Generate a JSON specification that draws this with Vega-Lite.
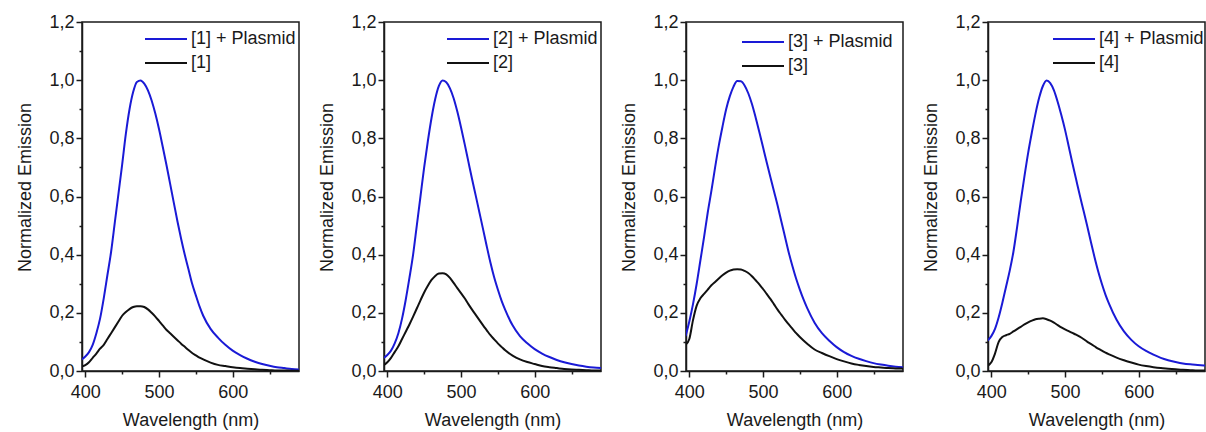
{
  "$schema": "https://vega.github.io/schema/vega-lite/v6.json",
  "padding": {"left": 16, "top": 12, "right": 0, "bottom": 0},
  "background": "white",
  "spacing": 18,
  "config": {
    "font": "Liberation Sans",
    "view": {"stroke": "#1a1a1a", "strokeWidth": 1.5},
    "axis": {"domainColor": "#1a1a1a", "domainWidth": 1.5, "tickColor": "#1a1a1a", "tickWidth": 1.5, "labelFontSize": 18, "titleFontSize": 18, "titleFontWeight": "normal", "labelColor": "#1a1a1a", "titleColor": "#1a1a1a", "grid": false, "labelOverlap": false, "labelFlush": false},
    "legend": {"orient": "none", "title": null, "symbolType": "stroke", "symbolSize": 1764, "symbolStrokeWidth": 2, "clipHeight": 22, "rowPadding": 2, "labelFontSize": 18, "labelOffset": 3, "labelColor": "#1a1a1a", "padding": 0}
  },
  "datasets": {
    "spectra": [
      {"p":1,"x":395,"a":0.04,"b":0.015},{"p":1,"x":400,"a":0.05,"b":0.02},{"p":1,"x":405,"a":0.065,"b":0.03},{"p":1,"x":410,"a":0.09,"b":0.045},{"p":1,"x":415,"a":0.13,"b":0.06},{"p":1,"x":420,"a":0.18,"b":0.077},{"p":1,"x":425,"a":0.25,"b":0.09},{"p":1,"x":430,"a":0.33,"b":0.11},{"p":1,"x":435,"a":0.41,"b":0.13},{"p":1,"x":440,"a":0.51,"b":0.15},
      {"p":1,"x":445,"a":0.61,"b":0.17},{"p":1,"x":450,"a":0.71,"b":0.19},{"p":1,"x":455,"a":0.815,"b":0.203},{"p":1,"x":460,"a":0.9,"b":0.213},{"p":1,"x":465,"a":0.96,"b":0.22},{"p":1,"x":470,"a":0.994,"b":0.223},{"p":1,"x":475,"a":0.999,"b":0.223},{"p":1,"x":480,"a":0.988,"b":0.22},{"p":1,"x":485,"a":0.965,"b":0.212},{"p":1,"x":490,"a":0.93,"b":0.2},
      {"p":1,"x":495,"a":0.885,"b":0.187},{"p":1,"x":500,"a":0.832,"b":0.172},{"p":1,"x":505,"a":0.772,"b":0.157},{"p":1,"x":510,"a":0.71,"b":0.142},{"p":1,"x":515,"a":0.645,"b":0.13},{"p":1,"x":520,"a":0.58,"b":0.118},{"p":1,"x":525,"a":0.515,"b":0.106},{"p":1,"x":530,"a":0.455,"b":0.094},{"p":1,"x":535,"a":0.4,"b":0.083},{"p":1,"x":540,"a":0.35,"b":0.072},
      {"p":1,"x":545,"a":0.3,"b":0.062},{"p":1,"x":550,"a":0.26,"b":0.054},{"p":1,"x":555,"a":0.222,"b":0.046},{"p":1,"x":560,"a":0.19,"b":0.04},{"p":1,"x":570,"a":0.145,"b":0.029},{"p":1,"x":580,"a":0.115,"b":0.021},{"p":1,"x":590,"a":0.09,"b":0.017},{"p":1,"x":600,"a":0.07,"b":0.013},{"p":1,"x":610,"a":0.055,"b":0.01},{"p":1,"x":620,"a":0.042,"b":0.008},
      {"p":1,"x":630,"a":0.032,"b":0.006},{"p":1,"x":640,"a":0.024,"b":0.004},{"p":1,"x":650,"a":0.018,"b":0.003},{"p":1,"x":660,"a":0.013,"b":0.002},{"p":1,"x":670,"a":0.01,"b":0.002},{"p":1,"x":680,"a":0.007,"b":0.001},{"p":1,"x":690,"a":0.005,"b":0.001},

      {"p":2,"x":395,"a":0.045,"b":0.02},{"p":2,"x":400,"a":0.055,"b":0.03},{"p":2,"x":405,"a":0.07,"b":0.045},{"p":2,"x":410,"a":0.095,"b":0.065},{"p":2,"x":415,"a":0.13,"b":0.085},{"p":2,"x":420,"a":0.18,"b":0.11},{"p":2,"x":425,"a":0.245,"b":0.135},{"p":2,"x":430,"a":0.32,"b":0.16},{"p":2,"x":435,"a":0.4,"b":0.187},{"p":2,"x":440,"a":0.5,"b":0.215},
      {"p":2,"x":445,"a":0.6,"b":0.243},{"p":2,"x":450,"a":0.7,"b":0.27},{"p":2,"x":455,"a":0.79,"b":0.293},{"p":2,"x":460,"a":0.87,"b":0.313},{"p":2,"x":465,"a":0.935,"b":0.327},{"p":2,"x":470,"a":0.98,"b":0.335},{"p":2,"x":475,"a":0.999,"b":0.336},{"p":2,"x":480,"a":0.993,"b":0.332},{"p":2,"x":485,"a":0.972,"b":0.32},{"p":2,"x":490,"a":0.938,"b":0.303},
      {"p":2,"x":495,"a":0.892,"b":0.285},{"p":2,"x":500,"a":0.838,"b":0.268},{"p":2,"x":505,"a":0.78,"b":0.25},{"p":2,"x":510,"a":0.72,"b":0.23},{"p":2,"x":515,"a":0.66,"b":0.211},{"p":2,"x":520,"a":0.603,"b":0.193},{"p":2,"x":525,"a":0.545,"b":0.175},{"p":2,"x":530,"a":0.487,"b":0.157},{"p":2,"x":535,"a":0.428,"b":0.14},{"p":2,"x":540,"a":0.372,"b":0.123},
      {"p":2,"x":545,"a":0.322,"b":0.109},{"p":2,"x":550,"a":0.28,"b":0.095},{"p":2,"x":555,"a":0.242,"b":0.083},{"p":2,"x":560,"a":0.21,"b":0.071},{"p":2,"x":570,"a":0.157,"b":0.053},{"p":2,"x":580,"a":0.12,"b":0.04},{"p":2,"x":590,"a":0.095,"b":0.031},{"p":2,"x":600,"a":0.075,"b":0.024},{"p":2,"x":610,"a":0.06,"b":0.017},{"p":2,"x":620,"a":0.048,"b":0.013},
      {"p":2,"x":630,"a":0.038,"b":0.01},{"p":2,"x":640,"a":0.03,"b":0.007},{"p":2,"x":650,"a":0.024,"b":0.005},{"p":2,"x":660,"a":0.019,"b":0.004},{"p":2,"x":670,"a":0.015,"b":0.003},{"p":2,"x":680,"a":0.012,"b":0.002},{"p":2,"x":690,"a":0.01,"b":0.002},

      {"p":3,"x":395,"a":0.12,"b":0.09},{"p":3,"x":400,"a":0.17,"b":0.11},{"p":3,"x":405,"a":0.23,"b":0.175},{"p":3,"x":410,"a":0.3,"b":0.225},{"p":3,"x":415,"a":0.38,"b":0.25},{"p":3,"x":420,"a":0.46,"b":0.265},{"p":3,"x":425,"a":0.545,"b":0.28},{"p":3,"x":430,"a":0.62,"b":0.295},{"p":3,"x":435,"a":0.7,"b":0.306},{"p":3,"x":440,"a":0.775,"b":0.318},
      {"p":3,"x":445,"a":0.84,"b":0.329},{"p":3,"x":450,"a":0.9,"b":0.338},{"p":3,"x":455,"a":0.945,"b":0.345},{"p":3,"x":460,"a":0.978,"b":0.349},{"p":3,"x":465,"a":0.997,"b":0.35},{"p":3,"x":470,"a":0.996,"b":0.349},{"p":3,"x":475,"a":0.982,"b":0.344},{"p":3,"x":480,"a":0.955,"b":0.337},{"p":3,"x":485,"a":0.918,"b":0.326},{"p":3,"x":490,"a":0.872,"b":0.312},
      {"p":3,"x":495,"a":0.822,"b":0.298},{"p":3,"x":500,"a":0.77,"b":0.282},{"p":3,"x":505,"a":0.718,"b":0.265},{"p":3,"x":510,"a":0.667,"b":0.248},{"p":3,"x":515,"a":0.617,"b":0.229},{"p":3,"x":520,"a":0.567,"b":0.21},{"p":3,"x":525,"a":0.513,"b":0.193},{"p":3,"x":530,"a":0.46,"b":0.176},{"p":3,"x":535,"a":0.407,"b":0.16},{"p":3,"x":540,"a":0.36,"b":0.145},
      {"p":3,"x":545,"a":0.317,"b":0.13},{"p":3,"x":550,"a":0.28,"b":0.117},{"p":3,"x":555,"a":0.246,"b":0.105},{"p":3,"x":560,"a":0.216,"b":0.094},{"p":3,"x":570,"a":0.166,"b":0.074},{"p":3,"x":580,"a":0.13,"b":0.062},{"p":3,"x":590,"a":0.104,"b":0.051},{"p":3,"x":600,"a":0.082,"b":0.041},{"p":3,"x":610,"a":0.065,"b":0.033},{"p":3,"x":620,"a":0.052,"b":0.026},
      {"p":3,"x":630,"a":0.042,"b":0.021},{"p":3,"x":640,"a":0.034,"b":0.017},{"p":3,"x":650,"a":0.027,"b":0.014},{"p":3,"x":660,"a":0.022,"b":0.012},{"p":3,"x":670,"a":0.018,"b":0.01},{"p":3,"x":680,"a":0.015,"b":0.009},{"p":3,"x":690,"a":0.013,"b":0.008},

      {"p":4,"x":395,"a":0.105,"b":0.018},{"p":4,"x":400,"a":0.12,"b":0.03},{"p":4,"x":405,"a":0.145,"b":0.06},{"p":4,"x":410,"a":0.185,"b":0.1},{"p":4,"x":415,"a":0.235,"b":0.117},{"p":4,"x":420,"a":0.29,"b":0.123},{"p":4,"x":425,"a":0.345,"b":0.128},{"p":4,"x":430,"a":0.41,"b":0.136},{"p":4,"x":435,"a":0.495,"b":0.144},{"p":4,"x":440,"a":0.585,"b":0.152},
      {"p":4,"x":445,"a":0.67,"b":0.16},{"p":4,"x":450,"a":0.75,"b":0.167},{"p":4,"x":455,"a":0.82,"b":0.173},{"p":4,"x":460,"a":0.885,"b":0.178},{"p":4,"x":465,"a":0.94,"b":0.18},{"p":4,"x":470,"a":0.98,"b":0.181},{"p":4,"x":475,"a":0.999,"b":0.178},{"p":4,"x":480,"a":0.99,"b":0.173},{"p":4,"x":485,"a":0.965,"b":0.166},{"p":4,"x":490,"a":0.926,"b":0.158},
      {"p":4,"x":495,"a":0.88,"b":0.15},{"p":4,"x":500,"a":0.83,"b":0.143},{"p":4,"x":505,"a":0.773,"b":0.137},{"p":4,"x":510,"a":0.715,"b":0.131},{"p":4,"x":515,"a":0.66,"b":0.125},{"p":4,"x":520,"a":0.605,"b":0.118},{"p":4,"x":525,"a":0.553,"b":0.11},{"p":4,"x":530,"a":0.5,"b":0.101},{"p":4,"x":535,"a":0.445,"b":0.093},{"p":4,"x":540,"a":0.392,"b":0.085},
      {"p":4,"x":545,"a":0.343,"b":0.077},{"p":4,"x":550,"a":0.3,"b":0.07},{"p":4,"x":555,"a":0.262,"b":0.063},{"p":4,"x":560,"a":0.23,"b":0.057},{"p":4,"x":570,"a":0.176,"b":0.046},{"p":4,"x":580,"a":0.136,"b":0.037},{"p":4,"x":590,"a":0.107,"b":0.029},{"p":4,"x":600,"a":0.085,"b":0.022},{"p":4,"x":610,"a":0.069,"b":0.017},{"p":4,"x":620,"a":0.056,"b":0.013},
      {"p":4,"x":630,"a":0.045,"b":0.01},{"p":4,"x":640,"a":0.037,"b":0.008},{"p":4,"x":650,"a":0.031,"b":0.006},{"p":4,"x":660,"a":0.026,"b":0.004},{"p":4,"x":670,"a":0.023,"b":0.003},{"p":4,"x":680,"a":0.021,"b":0.002},{"p":4,"x":690,"a":0.019,"b":0.002}
    ]
  },
  "data": {"name": "spectra"},
  "resolve": {"scale": {"color": "independent"}, "legend": {"color": "independent"}},
  "hconcat": [
    {
      "width": 217, "height": 349,
      "transform": [{"filter": "datum.p == 1"}, {"fold": ["a", "b"], "as": ["s", "v"]}],
      "mark": {"type": "line", "strokeWidth": 2, "interpolate": "monotone", "clip": true},
      "encoding": {
        "x": {"field": "x", "type": "quantitative", "scale": {"domain": [395.5, 690], "nice": false, "zero": false},
          "axis": {"title": "Wavelength (nm)", "values": [400, 450, 500, 550, 600, 650], "labelExpr": "datum.value % 100 == 0 ? datum.label : ''", "tickSize": {"condition": {"test": "datum.value % 100 == 0", "value": 6}, "value": 3}, "labelPadding": 6, "titlePadding": 10}},
        "y": {"field": "v", "type": "quantitative", "scale": {"domain": [0, 1.2], "nice": false},
          "axis": {"title": "Normalized Emission", "titleY": 165, "values": [0, 0.1, 0.2, 0.3, 0.4, 0.5, 0.6, 0.7, 0.8, 0.9, 1, 1.1, 1.2], "labelExpr": "round(datum.value*10) % 2 == 0 ? replace(format(datum.value, '.1f'), '.', ',') : ''", "tickSize": {"condition": {"test": "round(datum.value*10) % 2 == 0", "value": 6}, "value": 3}, "labelPadding": 2, "titlePadding": 14}},
        "color": {"field": "s", "type": "nominal", "scale": {"domain": ["a", "b"], "range": ["#1a1ad6", "#111111"]},
          "legend": {"legendX": 62, "legendY": 6, "labelExpr": "datum.value == 'a' ? '[1] + Plasmid' : '[1]'"}}
      }
    },
    {
      "width": 217, "height": 349,
      "transform": [{"filter": "datum.p == 2"}, {"fold": ["a", "b"], "as": ["s", "v"]}],
      "mark": {"type": "line", "strokeWidth": 2, "interpolate": "monotone", "clip": true},
      "encoding": {
        "x": {"field": "x", "type": "quantitative", "scale": {"domain": [395.5, 690], "nice": false, "zero": false},
          "axis": {"title": "Wavelength (nm)", "values": [400, 450, 500, 550, 600, 650], "labelExpr": "datum.value % 100 == 0 ? datum.label : ''", "tickSize": {"condition": {"test": "datum.value % 100 == 0", "value": 6}, "value": 3}, "labelPadding": 6, "titlePadding": 10}},
        "y": {"field": "v", "type": "quantitative", "scale": {"domain": [0, 1.2], "nice": false},
          "axis": {"title": "Normalized Emission", "titleY": 165, "values": [0, 0.1, 0.2, 0.3, 0.4, 0.5, 0.6, 0.7, 0.8, 0.9, 1, 1.1, 1.2], "labelExpr": "round(datum.value*10) % 2 == 0 ? replace(format(datum.value, '.1f'), '.', ',') : ''", "tickSize": {"condition": {"test": "round(datum.value*10) % 2 == 0", "value": 6}, "value": 3}, "labelPadding": 2, "titlePadding": 14}},
        "color": {"field": "s", "type": "nominal", "scale": {"domain": ["a", "b"], "range": ["#1a1ad6", "#111111"]},
          "legend": {"legendX": 62, "legendY": 6, "labelExpr": "datum.value == 'a' ? '[2] + Plasmid' : '[2]'"}}
      }
    },
    {
      "width": 217, "height": 349,
      "transform": [{"filter": "datum.p == 3"}, {"fold": ["a", "b"], "as": ["s", "v"]}],
      "mark": {"type": "line", "strokeWidth": 2, "interpolate": "monotone", "clip": true},
      "encoding": {
        "x": {"field": "x", "type": "quantitative", "scale": {"domain": [395.5, 690], "nice": false, "zero": false},
          "axis": {"title": "Wavelength (nm)", "values": [400, 450, 500, 550, 600, 650], "labelExpr": "datum.value % 100 == 0 ? datum.label : ''", "tickSize": {"condition": {"test": "datum.value % 100 == 0", "value": 6}, "value": 3}, "labelPadding": 6, "titlePadding": 10}},
        "y": {"field": "v", "type": "quantitative", "scale": {"domain": [0, 1.2], "nice": false},
          "axis": {"title": "Normalized Emission", "titleY": 165, "values": [0, 0.1, 0.2, 0.3, 0.4, 0.5, 0.6, 0.7, 0.8, 0.9, 1, 1.1, 1.2], "labelExpr": "round(datum.value*10) % 2 == 0 ? replace(format(datum.value, '.1f'), '.', ',') : ''", "tickSize": {"condition": {"test": "round(datum.value*10) % 2 == 0", "value": 6}, "value": 3}, "labelPadding": 2, "titlePadding": 14}},
        "color": {"field": "s", "type": "nominal", "scale": {"domain": ["a", "b"], "range": ["#1a1ad6", "#111111"]},
          "legend": {"legendX": 55, "legendY": 9, "labelExpr": "datum.value == 'a' ? '[3] + Plasmid' : '[3]'"}}
      }
    },
    {
      "width": 217, "height": 349,
      "transform": [{"filter": "datum.p == 4"}, {"fold": ["a", "b"], "as": ["s", "v"]}],
      "mark": {"type": "line", "strokeWidth": 2, "interpolate": "monotone", "clip": true},
      "encoding": {
        "x": {"field": "x", "type": "quantitative", "scale": {"domain": [395.5, 690], "nice": false, "zero": false},
          "axis": {"title": "Wavelength (nm)", "values": [400, 450, 500, 550, 600, 650], "labelExpr": "datum.value % 100 == 0 ? datum.label : ''", "tickSize": {"condition": {"test": "datum.value % 100 == 0", "value": 6}, "value": 3}, "labelPadding": 6, "titlePadding": 10}},
        "y": {"field": "v", "type": "quantitative", "scale": {"domain": [0, 1.2], "nice": false},
          "axis": {"title": "Normalized Emission", "titleY": 165, "values": [0, 0.1, 0.2, 0.3, 0.4, 0.5, 0.6, 0.7, 0.8, 0.9, 1, 1.1, 1.2], "labelExpr": "round(datum.value*10) % 2 == 0 ? replace(format(datum.value, '.1f'), '.', ',') : ''", "tickSize": {"condition": {"test": "round(datum.value*10) % 2 == 0", "value": 6}, "value": 3}, "labelPadding": 2, "titlePadding": 14}},
        "color": {"field": "s", "type": "nominal", "scale": {"domain": ["a", "b"], "range": ["#1a1ad6", "#111111"]},
          "legend": {"legendX": 64, "legendY": 6, "labelExpr": "datum.value == 'a' ? '[4] + Plasmid' : '[4]'"}}
      }
    }
  ]
}
